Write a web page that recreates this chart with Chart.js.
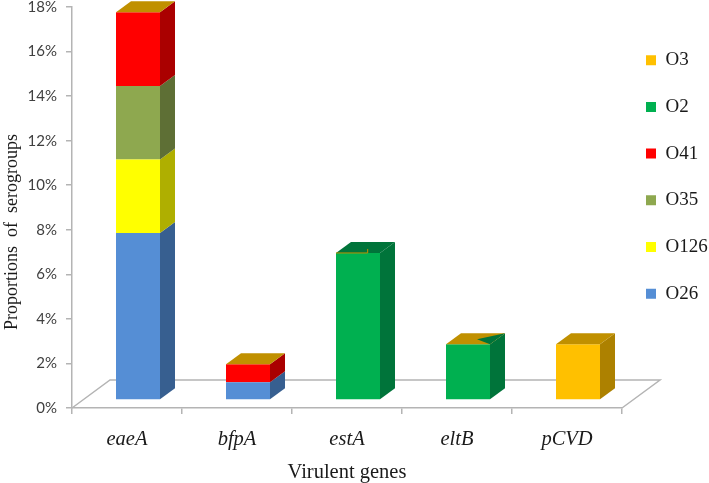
<!DOCTYPE html>
<html>
<head>
<meta charset="utf-8">
<title>Virulent genes</title>
<script src="https://cdn.jsdelivr.net/npm/chart.js@4"></script>
<style>
  html, body { margin: 0; padding: 0; background: #fff; }
  canvas { display: block; }
</style>
</head>
<body>
<canvas id="myChart" width="709" height="483"></canvas>
<script>
const genes = ['eaeA', 'bfpA', 'estA', 'eltB', 'pCVD'];
const o26 = [7.5, 0.8, 0, 0, 0];
const o126 = [3.3, 0, 0, 0, 0];
const o35 = [3.3, 0, 0, 0, 0];
const o41 = [3.3, 0.8, 0, 0, 0];
const o2 = [0, 0, 6.6, 2.5, 0];
const o3 = [0, 0, 0, 0, 2.5];

const gold = '#C09000';
const darkGreen = '#00743A';
const topColors = [gold, gold, darkGreen, gold, gold];
const axisColor = '#B4B4B4';
const serif = '"Liberation Serif"';

// fake 3D: how far the floor and the bars go back
const floorDepth = { x: 38, y: -28 };
const barDepth = { x: 15, y: -11 };
const barShift = { x: 11, y: -8 };

const series = (label, data, color, side) => ({
    label, data,
    backgroundColor: color,
    sideColor: side
});

const threeD = {
    id: 'threeD',
    beforeDatasetsDraw(chart) {
        const { ctx, chartArea: a } = chart;
        ctx.save();
        ctx.strokeStyle = axisColor;
        ctx.lineWidth = 1.5;
        ctx.beginPath();
        ctx.moveTo(a.left, a.bottom);
        ctx.lineTo(a.left + floorDepth.x, a.bottom + floorDepth.y);
        ctx.lineTo(a.right + floorDepth.x, a.bottom + floorDepth.y);
        ctx.lineTo(a.right, a.bottom);
        ctx.stroke();
        ctx.restore();
        ctx.save();
        ctx.translate(barShift.x, barShift.y);
    },
    afterDatasetsDraw(chart) {
        const ctx = chart.ctx;
        const poly = (color, pts) => {
            ctx.fillStyle = color;
            ctx.beginPath();
            pts.forEach((p, i) => i ? ctx.lineTo(p[0], p[1]) : ctx.moveTo(p[0], p[1]));
            ctx.closePath();
            ctx.fill();
        };
        const dx = barDepth.x, dy = barDepth.y;
        genes.forEach((g, i) => {
            let top = null;
            chart.data.datasets.forEach((ds, d) => {
                if (!ds.data[i]) return;
                const bar = chart.getDatasetMeta(d).data[i];
                const r = bar.x + bar.width / 2;
                poly(ds.sideColor, [[r, bar.y], [r + dx, bar.y + dy], [r + dx, bar.base + dy], [r, bar.base]]);
                top = bar;
            });
            const l = top.x - top.width / 2, r = top.x + top.width / 2, y = top.y;
            poly(topColors[i], [[l, y], [l + dx, y + dy], [r + dx, y + dy], [r, y]]);
            // leftovers of the empty O3 segment in the original
            if (g === 'estA') {
                ctx.strokeStyle = gold;
                ctx.lineWidth = 1;
                ctx.beginPath();
                ctx.moveTo(l, y);
                ctx.lineTo(l + top.width * 0.72, y);
                ctx.lineTo(l + top.width * 0.72, y - 4);
                ctx.stroke();
            }
            if (g === 'eltB') {
                poly(darkGreen, [[r - 13, y - 5], [r + dx, y + dy], [r, y]]);
            }
        });
        ctx.restore();
    },
    afterLayout(chart) {
        chart.legend.top = 23;
        chart.legend.left = 618.3;
    },
    afterDraw(chart) {
        const ctx = chart.ctx;
        ctx.save();
        ctx.translate(12, 232);
        ctx.rotate(-Math.PI / 2);
        ctx.font = '18px ' + serif;
        ctx.fillStyle = '#1a1a1a';
        ctx.textAlign = 'center';
        ctx.textBaseline = 'middle';
        ctx.fillText('Proportions  of  serogroups', 0, 0);
        ctx.restore();
    }
};

const config = {
    type: 'bar',
    data: {
        labels: genes,
        datasets: [
            series('O26', o26, '#558ED5', '#375F90'),
            series('O126', o126, '#FFFF00', '#AFAF00'),
            series('O35', o35, '#8EA84F', '#5E6F35'),
            series('O41', o41, '#FF0000', '#AA0000'),
            series('O2', o2, '#00B050', darkGreen),
            series('O3', o3, '#FFC000', '#AD8100')
        ]
    },
    options: {
        responsive: false,
        animation: false,
        categoryPercentage: 0.4,
        barPercentage: 1,
        layout: {
            autoPadding: false,
            padding: 0
        },
        plugins: {
            tooltip: { enabled: false },
            legend: {
                position: 'right',
                align: 'start',
                reverse: true,
                maxWidth: 87,
                labels: {
                    boxWidth: 10,
                    boxHeight: 10,
                    padding: 27.7,
                    color: '#1a1a1a',
                    font: { family: serif, size: 19 }
                }
            }
        },
        scales: {
            x: {
                stacked: true,
                afterFit: scale => { scale.height = 75; },
                border: { color: axisColor, width: 1.5 },
                grid: { color: axisColor, drawOnChartArea: false, tickLength: 6, lineWidth: 1.5 },
                ticks: {
                    color: '#1a1a1a',
                    padding: 13,
                    maxRotation: 0,
                    font: { family: serif, size: 20.5, style: 'italic' }
                },
                title: {
                    display: true,
                    text: 'Virulent genes',
                    color: '#1a1a1a',
                    padding: { top: 0, bottom: -2 },
                    font: { family: serif, size: 20.5 }
                }
            },
            y: {
                stacked: true,
                min: 0,
                max: 18,
                // the tick padding would otherwise push the top of the axis down
                afterFit: scale => {
                    scale.width = 72;
                    scale.paddingTop = 7;
                },
                border: { color: axisColor, width: 1.5 },
                grid: { color: axisColor, drawOnChartArea: false, tickLength: 6, lineWidth: 1.5 },
                ticks: {
                    stepSize: 2,
                    color: '#404040',
                    padding: 9,
                    font: { family: 'Lato', size: 15 },
                    callback: v => v + '%'
                }
            }
        }
    },
    plugins: [threeD]
};

const myChart = new Chart(document.getElementById('myChart'), config);
</script>
</body>
</html>
